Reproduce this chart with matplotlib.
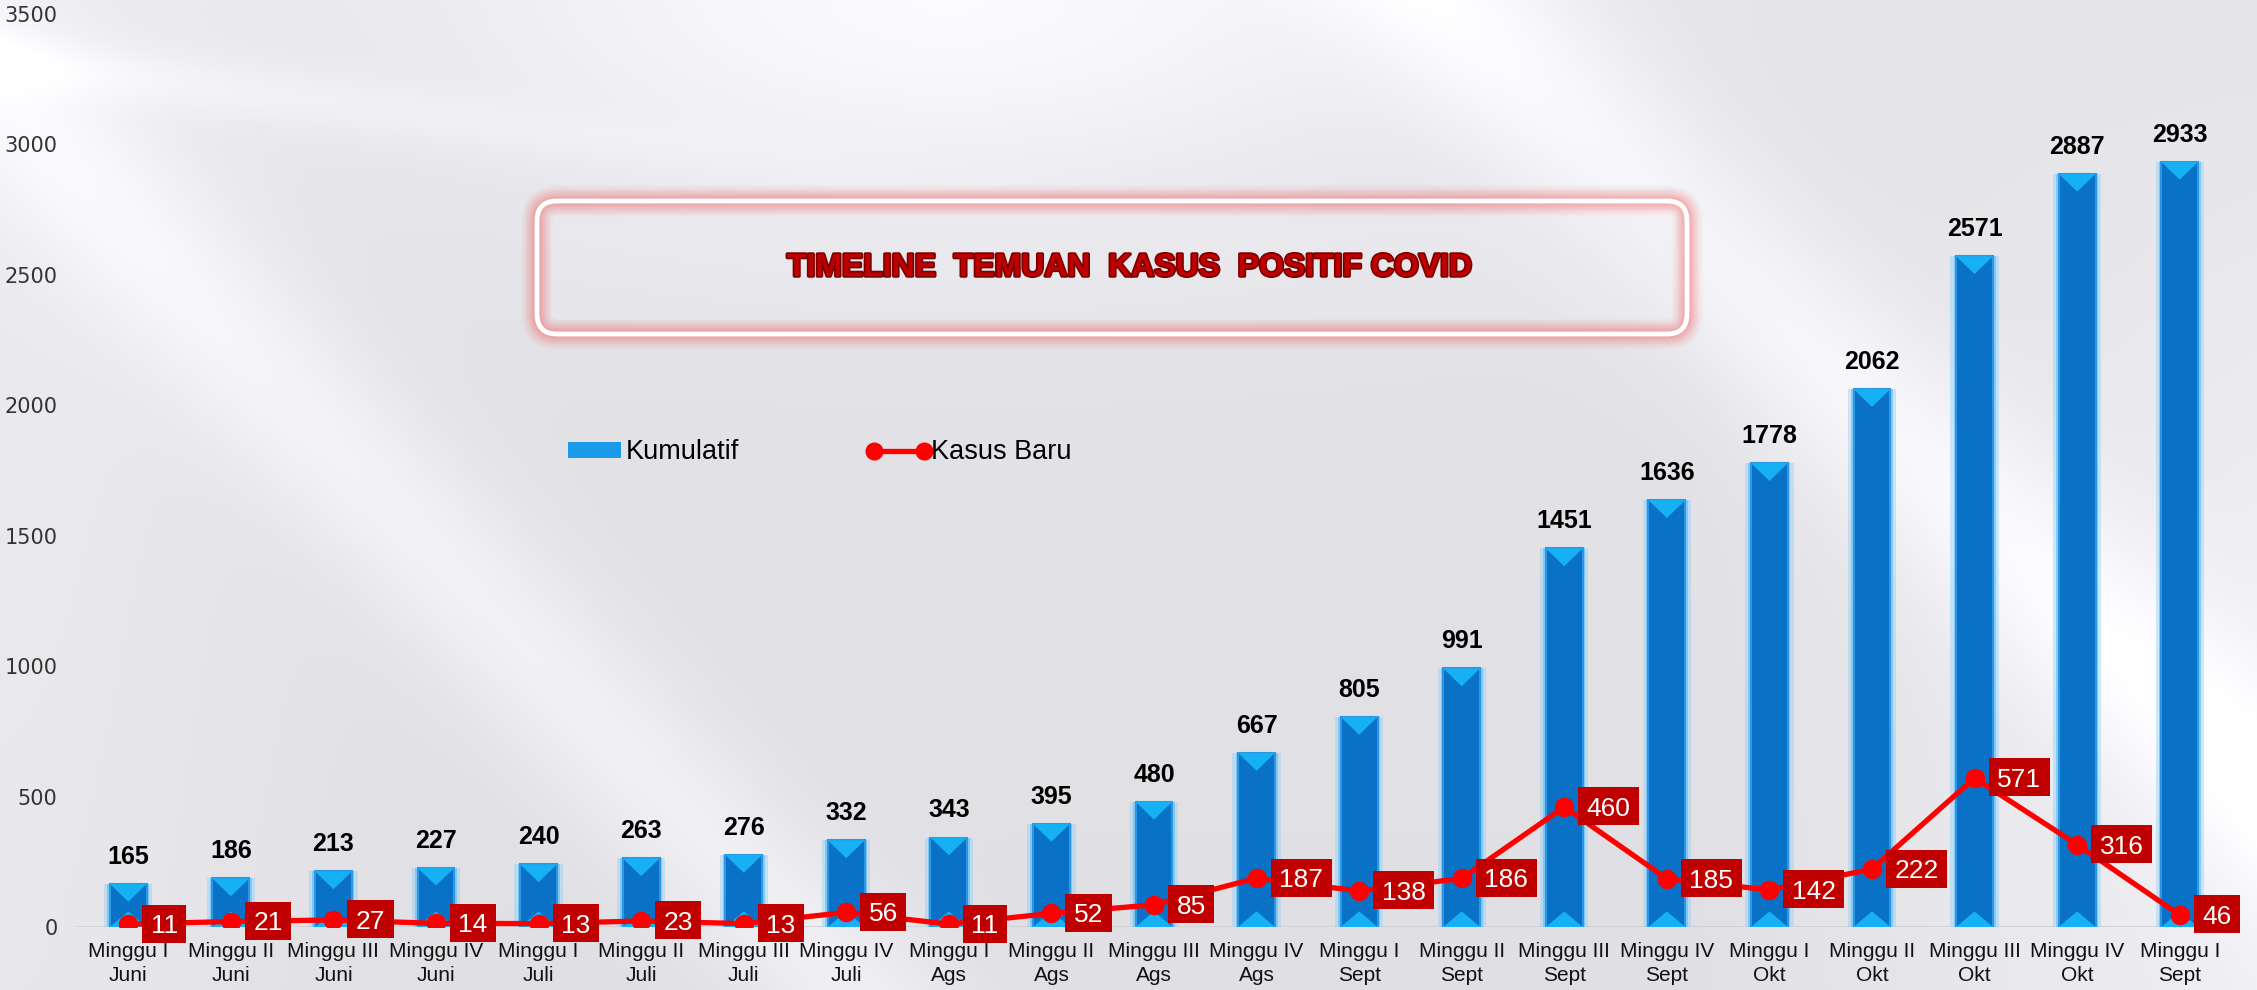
import numpy as np
import matplotlib
matplotlib.use('Agg')
import matplotlib.pyplot as plt
import matplotlib.patheffects as pe
from matplotlib.patches import FancyBboxPatch, Polygon, Patch
from matplotlib.lines import Line2D
from matplotlib.path import Path
from matplotlib.legend_handler import HandlerLine2D
from matplotlib.transforms import IdentityTransform

minggu = ['Minggu I\nJuni', 'Minggu II\nJuni', 'Minggu III\nJuni', 'Minggu IV\nJuni',
          'Minggu I\nJuli', 'Minggu II\nJuli', 'Minggu III\nJuli', 'Minggu IV\nJuli',
          'Minggu I\nAgs', 'Minggu II\nAgs', 'Minggu III\nAgs', 'Minggu IV\nAgs',
          'Minggu I\nSept', 'Minggu II\nSept', 'Minggu III\nSept', 'Minggu IV\nSept',
          'Minggu I\nOkt', 'Minggu II\nOkt', 'Minggu III\nOkt', 'Minggu IV\nOkt',
          'Minggu I\nSept']
kumulatif = [165, 186, 213, 227, 240, 263, 276, 332, 343, 395, 480,
             667, 805, 991, 1451, 1636, 1778, 2062, 2571, 2887, 2933]
kasus_baru = [11, 21, 27, 14, 13, 23, 13, 56, 11, 52, 85,
              187, 138, 186, 460, 185, 142, 222, 571, 316, 46]
judul = 'TIMELINE  TEMUAN  KASUS  POSITIF COVID'

W, H = 2257, 990
fig = plt.figure(figsize=(W / 100, H / 100), dpi=100)

# latar belakang abu-abu dengan lengkungan putih
yy, xx = np.mgrid[0:1:H * 1j, 0:1:W * 1j]
bg = 0.88 + 0.015 * (1 - yy)
bg += 0.09 * np.exp(-((xx - 0.42) / 0.22) ** 2 - (yy / 0.2) ** 2)
bg += 0.06 * np.exp(-((yy - (0.36 + 2.4 * (xx - 0.11))) / 0.12) ** 2)
bg += 0.07 * np.exp(-((yy - 2.2 * (xx - 0.64)) / 0.13) ** 2)
bg += 0.04 * np.exp(-((yy - (0.06 + 0.3 * xx)) / 0.03) ** 2) * np.exp(-(xx / 0.3) ** 2)
bg += 0.06 * np.clip((xx - 0.75) / 0.25, 0, 1) * np.clip(yy * 1.5, 0, 1)
bg += 0.03 * np.exp(-(xx / 0.12) ** 2)
bg = np.clip(bg, 0, 1)
rgb = np.dstack([bg, bg, np.clip(bg + 0.015, 0, 1)])
ax_bg = fig.add_axes([0, 0, 1, 1], zorder=-5)
ax_bg.imshow(rgb, aspect='auto', interpolation='bilinear')
ax_bg.axis('off')

ax = fig.add_axes([77 / W, 63 / H, 2154 / W, 913 / H])
ax.patch.set_alpha(0)
x = np.arange(len(kumulatif))

# batang kumulatif
ax.bar(x, kumulatif, width=0.47, color='#8fd0fa', alpha=0.45, zorder=2)
ax.bar(x, kumulatif, width=0.41, color='#6cc2f7', alpha=0.7, zorder=2)
ax.bar(x, kumulatif, width=0.36, color='#0a72c6', edgecolor='#2c98e4', linewidth=1.5, zorder=3)
hw = 0.18
for xi, v in zip(x, kumulatif):
    ax.add_patch(Polygon([(xi - hw, v), (xi + hw, v), (xi, v - 68)],
                         closed=True, color='#16b0f4', zorder=4, lw=0))
    ax.add_patch(Polygon([(xi - hw, 0), (xi + hw, 0), (xi, 60)],
                         closed=True, color='#16b0f4', zorder=4, lw=0))
    ax.annotate(str(v), (xi, v), xytext=(0, 11), textcoords='offset points',
                ha='center', va='bottom', fontsize=18, fontweight='bold',
                family='Liberation Sans', color='black', zorder=7)


def kotak_label(x0, y0, width, height, mutation_size):
    # kotak merah, angka di tengah kotak
    px = 0.32 * mutation_size
    pb = 0.17 * mutation_size
    pt = 0.36 * mutation_size
    return Path([(x0 - px, y0 - pb), (x0 + width + px, y0 - pb),
                 (x0 + width + px, y0 + height + pt), (x0 - px, y0 + height + pt),
                 (x0 - px, y0 - pb)], closed=True)


# garis kasus baru
ax.plot(x, kasus_baru, color='#ff0000', lw=3.8, marker='o', ms=13, zorder=5,
        solid_capstyle='round')
for xi, v in zip(x, kasus_baru):
    ax.annotate(str(v), (xi, v), xytext=(16.2, -1.4), textcoords='offset points',
                ha='left', va='center', fontsize=19, color='white', family='Liberation Sans',
                bbox=dict(boxstyle=kotak_label, fc='#c00000', ec='none'), zorder=6)

ax.axhline(0, color='#cfd0d4', lw=2, zorder=1)
ax.set_xlim(-0.5, 20.5)
ax.set_ylim(0, 3500)
ax.set_yticks(np.arange(0, 3501, 500))
ax.set_xticks(x)
ax.set_xticklabels(minggu, fontsize=15, family='Liberation Sans', color='#111111',
                   linespacing=1.3)
for lbl in ax.get_yticklabels():
    lbl.set_fontsize(15)
    lbl.set_family('DejaVu Sans')
    lbl.set_color('#333333')
ax.tick_params(axis='y', length=0, pad=14)
ax.tick_params(axis='x', length=0, pad=11)
for s in ax.spines.values():
    s.set_visible(False)

# legenda
garis = Line2D([], [], color='#ff0000', lw=3.8, marker='o', ms=12)
handles = [Patch(facecolor='#1a9ae8', edgecolor='none'), garis]
fig.legend(handles, ['Kumulatif', 'Kasus Baru'], loc='center left',
           bbox_to_anchor=(568 / W, 0.543), ncol=2, frameon=False, numpoints=2,
           borderpad=0, borderaxespad=0, handlelength=1.95, handleheight=0.55,
           handletextpad=0.2, columnspacing=4.9,
           handler_map={garis: HandlerLine2D(marker_pad=0.05)},
           prop={'family': 'Liberation Sans', 'size': 19.5})

# kotak judul dengan efek cahaya merah
bx0, by0, bw, bh = 537, 656, 1150, 133
for d in range(-14, 17, 2):
    a = 0.28 * (1 - abs(d) / 17) ** 1.5
    fig.patches.append(FancyBboxPatch((bx0 - d, by0 - d), bw + 2 * d, bh + 2 * d,
                                      boxstyle='round,pad=0,rounding_size=%d' % max(20 + d, 3),
                                      transform=IdentityTransform(), fill=False,
                                      ec=(0.95, 0.25, 0.25, a), lw=3, zorder=1))
fig.patches.append(FancyBboxPatch((bx0 + 14, by0 + 14), bw - 28, bh - 28,
                                  boxstyle='round,pad=0,rounding_size=8',
                                  transform=IdentityTransform(), fc=(0.93, 0.93, 0.95, 0.4),
                                  ec='none', zorder=1))
fig.patches.append(FancyBboxPatch((bx0, by0), bw, bh,
                                  boxstyle='round,pad=0,rounding_size=20',
                                  transform=IdentityTransform(), fill=False,
                                  ec='white', lw=3.5, zorder=2))
fig.text(1130 / W, 1 - 268 / H, judul, ha='center', va='center', fontsize=23,
         fontweight='bold', family='Liberation Sans',
         color='#c00000', zorder=3,
         path_effects=[pe.withStroke(linewidth=2.5, foreground='#7a0000')])

fig.savefig('out.png', dpi=100)
